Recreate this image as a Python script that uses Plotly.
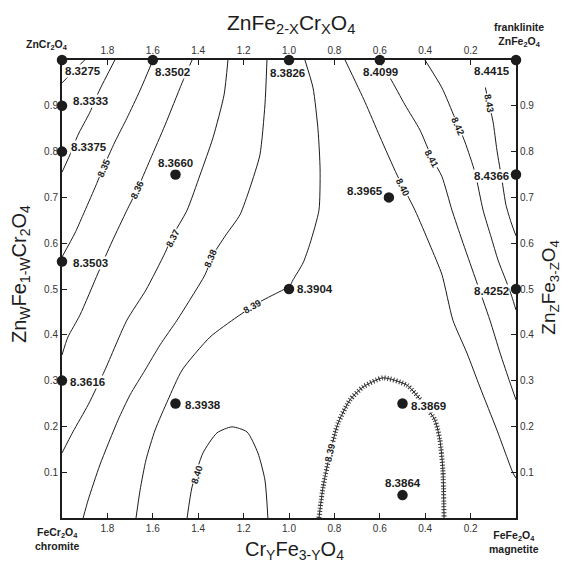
import plotly.graph_objects as go

# ---------------- data ----------------
# measured compositions (x along both horizontal scales, y along both vertical scales)
pt_x = [2.0, 1.6, 1.0, 0.6, 0.0, 2.0, 2.0, 2.0, 2.0, 1.5, 1.5, 1.0, 0.56, 0.0, 0.0, 0.5, 0.5]
pt_y = [1.0, 1.0, 1.0, 1.0, 1.0, 0.9, 0.8, 0.56, 0.3, 0.75, 0.25, 0.5, 0.7, 0.75, 0.5, 0.25, 0.05]
pt_a = ["8.3275", "8.3502", "8.3826", "8.4099", "8.4415", "8.3333", "8.3375", "8.3503",
        "8.3616", "8.3660", "8.3938", "8.3904", "8.3965", "8.4366", "8.4252", "8.3869", "8.3864"]

# iso-lattice-parameter contours (traced)
c833_x = [1.90, 1.95, 2.0]
c833_y = [1.0, 0.975, 0.95]
c834_x = [1.767, 1.837, 1.877, 1.930, 1.965, 2.0]
c834_y = [1.0, 0.932, 0.886, 0.836, 0.793, 0.755]
c835_x = [1.599, 1.656, 1.714, 1.767, 1.819, 1.855, 1.907, 1.943, 2.0]
c835_y = [1.0, 0.934, 0.873, 0.821, 0.764, 0.721, 0.662, 0.622, 0.570]
c836_x = [1.427, 1.471, 1.546, 1.612, 1.670, 1.714, 1.780, 1.841, 1.921, 1.974, 2.0]
c836_y = [1.0, 0.950, 0.858, 0.782, 0.716, 0.672, 0.603, 0.535, 0.443, 0.395, 0.356]
c837_x = [1.269, 1.286, 1.335, 1.392, 1.449, 1.515, 1.546, 1.630, 1.714, 1.811, 1.885, 1.952, 2.0]
c837_y = [1.0, 0.924, 0.830, 0.749, 0.672, 0.614, 0.579, 0.498, 0.432, 0.323, 0.247, 0.188, 0.142]
c838_x = [1.097, 1.106, 1.128, 1.172, 1.216, 1.278, 1.335, 1.370, 1.432, 1.493, 1.568, 1.634,
          1.700, 1.753, 1.833, 1.885, 1.907]
c838_y = [1.0, 0.902, 0.793, 0.721, 0.662, 0.618, 0.574, 0.531, 0.480, 0.432, 0.378, 0.323,
          0.269, 0.214, 0.116, 0.039, 0.0]
c839_x = [0.930, 0.894, 0.872, 0.863, 0.868, 0.907, 0.938, 0.982, 1.0, 1.026, 1.128, 1.229,
          1.348, 1.471, 1.533, 1.590, 1.630, 1.656, 1.674]
c839_y = [1.0, 0.939, 0.847, 0.760, 0.672, 0.600, 0.557, 0.520, 0.504, 0.498, 0.472, 0.439,
          0.395, 0.323, 0.258, 0.192, 0.127, 0.061, 0.0]
c840a_x = [1.449, 1.427, 1.379, 1.317, 1.251, 1.185, 1.137, 1.106, 1.093]
c840a_y = [0.0, 0.068, 0.142, 0.186, 0.199, 0.188, 0.142, 0.083, 0.0]
c839b_x = [0.868, 0.850, 0.819, 0.784, 0.731, 0.674, 0.586, 0.480, 0.410, 0.357, 0.335, 0.322, 0.317]
c839b_y = [0.0, 0.068, 0.142, 0.207, 0.258, 0.286, 0.306, 0.290, 0.251, 0.214, 0.170, 0.105, 0.0]
c840b_x = [0.753, 0.665, 0.599, 0.524, 0.445, 0.379, 0.326, 0.278, 0.216, 0.159, 0.084, 0.013, 0.0]
c840b_y = [1.0, 0.908, 0.832, 0.749, 0.672, 0.596, 0.531, 0.432, 0.360, 0.286, 0.192, 0.098, 0.087]
c841_x = [0.608, 0.555, 0.489, 0.423, 0.370, 0.326, 0.282, 0.238, 0.181, 0.115, 0.070, 0.026, 0.0]
c841_y = [1.0, 0.961, 0.902, 0.847, 0.786, 0.745, 0.672, 0.607, 0.526, 0.432, 0.360, 0.295, 0.258]
c842_x = [0.401, 0.326, 0.269, 0.225, 0.181, 0.145, 0.110, 0.079, 0.040, 0.018, 0.0]
c842_y = [1.0, 0.939, 0.873, 0.821, 0.755, 0.672, 0.614, 0.563, 0.513, 0.483, 0.454]
c843_x = [0.135, 0.119, 0.101, 0.084, 0.062, 0.044, 0.022, 0.0]
c843_y = [0.940, 0.904, 0.865, 0.803, 0.738, 0.683, 0.646, 0.616]

# contour level labels
lvl_text = ["8.35", "8.36", "8.37", "8.38", "8.39", "8.40", "8.39", "8.40", "8.41", "8.42", "8.43"]
lvl_x = [1.819, 1.670, 1.515, 1.344, 1.163, 1.405, 0.819, 0.498, 0.370, 0.256, 0.119]
lvl_y = [0.764, 0.718, 0.611, 0.568, 0.461, 0.094, 0.142, 0.721, 0.786, 0.854, 0.904]

# tick labels
x_ticks = [1.8, 1.6, 1.4, 1.2, 1.0, 0.8, 0.6, 0.4, 0.2]
x_tick_text = ["1.8", "1.6", "1.4", "1.2", "1.0", "0.8", "0.6", "0.4", "0.2"]
y_ticks = [0.1, 0.2, 0.3, 0.4, 0.5, 0.6, 0.7, 0.8, 0.9]
y_tick_text = ["0.1", "0.2", "0.3", "0.4", "0.5", "0.6", "0.7", "0.8", "0.9"]

# ---------------- styling ----------------
FONT = "Liberation Sans, Arial, Helvetica, sans-serif"
INK = "#1c1c1c"
pt_label_shift = [(21, -11), (20, -12), (-2, -13), (1, -12), (-24, -11), (28, 5), (27, 5),
                  (28, -1), (25, -1), (0, 12), (27, -1), (26, 0), (-24, 6), (-25, -1),
                  (-25, -2), (26, -2), (0, 12)]
lvl_angle = [-66, -65, -63, -68, -30, -72, -77, 63, 62, 66, 80]

fig = go.Figure()

contours = [(c833_x, c833_y), (c834_x, c834_y), (c835_x, c835_y), (c836_x, c836_y),
            (c837_x, c837_y), (c838_x, c838_y), (c839_x, c839_y), (c840a_x, c840a_y),
            (c839b_x, c839b_y), (c840b_x, c840b_y), (c841_x, c841_y), (c842_x, c842_y),
            (c843_x, c843_y)]
for cx, cy in contours:
    fig.add_trace(go.Scatter(x=cx, y=cy, mode="lines",
                             line=dict(color=INK, width=1, shape="spline", smoothing=0.6),
                             hoverinfo="skip", showlegend=False))

# hachures on the closed 8.39 low
fig.add_trace(go.Scatter(x=c839b_x, y=c839b_y, mode="lines",
                         line=dict(color="#333333", width=5, dash="1px,2px",
                                   shape="spline", smoothing=0.6),
                         hoverinfo="skip", showlegend=False))

# measured points
fig.add_trace(go.Scatter(x=pt_x, y=pt_y, mode="markers",
                         marker=dict(size=10.5, color=INK),
                         cliponaxis=False, hoverinfo="skip", showlegend=False))

# dummy trace for secondary axes
fig.add_trace(go.Scatter(x=[None], y=[None], xaxis="x2", yaxis="y2",
                         showlegend=False, hoverinfo="skip"))

ann = []
for x, y, t, (dx, dy) in zip(pt_x, pt_y, pt_a, pt_label_shift):
    ann.append(dict(x=x, y=y, xref="x", yref="y", text="<b>%s</b>" % t, showarrow=False,
                    xanchor="center", yanchor="middle",
                    xshift=dx, yshift=dy, bgcolor="white", borderpad=0,
                    font=dict(family=FONT, size=11.5, color=INK)))
for x, y, t, ang in zip(lvl_x, lvl_y, lvl_text, lvl_angle):
    ann.append(dict(x=x, y=y, xref="x", yref="y", text="<b>%s</b>" % t, showarrow=False,
                    xanchor="center", yanchor="middle",
                    textangle=ang, bgcolor="white", borderpad=0,
                    font=dict(family=FONT, size=9.5, color=INK)))


def paper_note(x, y, text, font, angle=0):
    return dict(x=x, y=y, xref="paper", yref="paper", showarrow=False, text=text,
                xanchor="center", yanchor="middle", textangle=angle, font=font)


title_font = dict(family=FONT, size=20, color=INK)
top_font = dict(family=FONT, size=21, color=INK)
side_font = dict(family=FONT, size=19, color=INK)
ann += [
    paper_note(0.504, 1.079, "ZnFe<sub>2-X</sub>Cr<sub>X</sub>O<sub>4</sub>", top_font),
    paper_note(0.513, -0.072, "Cr<sub>Y</sub>Fe<sub>3-Y</sub>O<sub>4</sub>", title_font),
    paper_note(-0.090, 0.533, "Zn<sub>W</sub>Fe<sub>1-W</sub>Cr<sub>2</sub>O<sub>4</sub>",
               title_font, -90),
    paper_note(1.076, 0.504, "Zn<sub>Z</sub>Fe<sub>3-Z</sub>O<sub>4</sub>", side_font, -90),
]
corner_font = dict(family=FONT, size=10.5, color=INK)
ann += [
    paper_note(-0.033, 1.033, "<b>ZnCr<sub>2</sub>O<sub>4</sub></b>", corner_font),
    paper_note(1.007, 1.055, "<b>franklinite<br>ZnFe<sub>2</sub>O<sub>4</sub></b>", corner_font),
    paper_note(-0.009, -0.046, "<b>FeCr<sub>2</sub>O<sub>4</sub><br>chromite</b>", corner_font),
    paper_note(0.996, -0.052, "<b>FeFe<sub>2</sub>O<sub>4</sub><br>magnetite</b>", corner_font),
]

tick_font = dict(family=FONT, size=10, color="#333333")
xcommon = dict(range=[2, 0], tickmode="array", tickvals=x_ticks, ticktext=x_tick_text,
               ticks="inside", ticklen=5, tickwidth=1, tickcolor=INK,
               showline=True, linecolor=INK, linewidth=2, showgrid=False,
               zeroline=False, tickfont=tick_font, fixedrange=True)
ycommon = dict(range=[0, 1], tickmode="array", tickvals=y_ticks, ticktext=y_tick_text,
               ticks="inside", ticklen=5, tickwidth=1, tickcolor=INK,
               showline=True, linecolor=INK, linewidth=2, showgrid=False,
               zeroline=False, tickfont=tick_font, fixedrange=True)

# the page adds an 8 px body margin, so the figure is sized/margined to compensate
fig.update_layout(
    width=560, height=560,
    margin=dict(l=54, r=52, t=52, b=50),
    paper_bgcolor="white", plot_bgcolor="white",
    xaxis=dict(**xcommon, side="bottom"),
    xaxis2=dict(**xcommon, side="top", overlaying="x", anchor="y"),
    yaxis=dict(**ycommon, side="left"),
    yaxis2=dict(**ycommon, side="right", overlaying="y", anchor="x"),
    annotations=ann,
    showlegend=False,
)

fig.write_html("out.html")
